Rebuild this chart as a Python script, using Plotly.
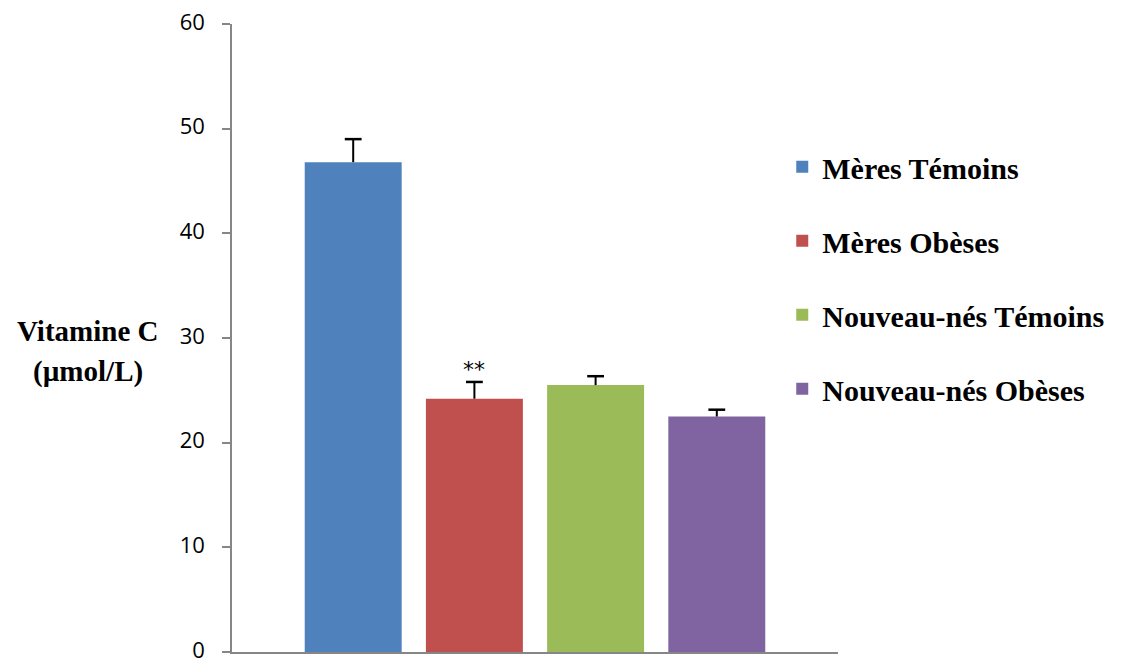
import plotly.graph_objects as go

# Groups, mean vitamin C levels and upper error (SEM)
groups = ["Mères Témoins", "Mères Obèses", "Nouveau-nés Témoins", "Nouveau-nés Obèses"]
vit_c = [46.8, 24.2, 25.5, 22.5]
err_up = [2.2, 1.6, 0.85, 0.65]
signif = ["", "**", "", ""]
colors = ["#4F81BD", "#C0504D", "#9BBB59", "#8064A2"]
y_ticks = [0, 10, 20, 30, 40, 50, 60]

fig = go.Figure()
for i, (name, val, err, col) in enumerate(zip(groups, vit_c, err_up, colors)):
    # bar with an upward-only error stem
    fig.add_trace(go.Bar(
        x=[i], y=[val], name=name, width=0.8,
        marker=dict(color=col, line=dict(width=0)),
        legendgroup=name,
        error_y=dict(type="data", array=[err], arrayminus=[0], symmetric=False,
                     color="black", thickness=2, width=0),
    ))

# caps on top of the error stems only
fig.add_trace(go.Scatter(
    x=list(range(len(groups))), y=[v + e for v, e in zip(vit_c, err_up)],
    mode="markers", showlegend=False, hoverinfo="skip",
    marker=dict(symbol="line-ew", size=12, line=dict(color="black", width=2.5)),
))

# significance marks above the error bars
for i, (val, err, s) in enumerate(zip(vit_c, err_up, signif)):
    if s:
        fig.add_annotation(x=i, y=val + err, text=s, showarrow=False,
                           yanchor="bottom", yshift=-2,
                           font=dict(family="DejaVu Sans", size=22, color="#000000"))

# y-axis title, written horizontally to the left of the ticks
title_font = dict(family="Liberation Serif", size=29, color="black", weight="bold")
fig.add_annotation(xref="paper", yref="paper", x=-0.2376, y=0.511,
                   xanchor="center", yanchor="middle", text="Vitamine C",
                   showarrow=False, font=title_font)
fig.add_annotation(xref="paper", yref="paper", x=-0.2376, y=0.446,
                   xanchor="center", yanchor="middle", text="(µmol/L)",
                   showarrow=False, font=title_font)

fig.update_layout(
    width=1130, height=659,
    margin=dict(l=232, r=292, t=24, b=7, autoexpand=False),
    paper_bgcolor="white", plot_bgcolor="white",
    barmode="overlay",
    showlegend=True,
    legend=dict(x=0.908, y=0.814, xanchor="left", yanchor="top",
                traceorder="grouped", tracegroupgap=32,
                font=dict(family="Liberation Serif", size=30, color="black",
                          weight="bold"),
                bgcolor="rgba(0,0,0,0)"),
    xaxis=dict(range=[-1, 4], showticklabels=False, ticks="", showgrid=False,
               zeroline=False, showline=True, linecolor="#868686", linewidth=2,
               automargin=False),
    yaxis=dict(range=[0, 60], tickvals=y_ticks, ticks="outside", ticklen=8,
               tickcolor="#868686", tickwidth=1.5, showgrid=False, zeroline=False,
               showline=True, linecolor="#868686", linewidth=1.5, automargin=False,
               ticklabeloverflow="allow", ticklabelstandoff=13, ticklabelshift=-2,
               tickfont=dict(family="Open Sans", size=22, color="black")),
)

fig.write_html("out.html")
